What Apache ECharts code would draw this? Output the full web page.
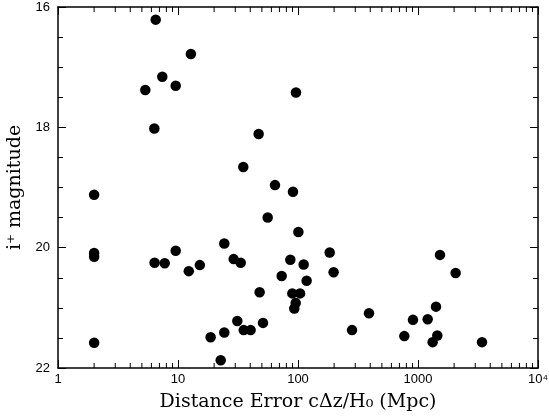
<!DOCTYPE html>
<html>
<head>
<meta charset="utf-8">
<script src="https://cdn.jsdelivr.net/npm/echarts@6/dist/echarts.min.js"></script>
<style>html,body{margin:0;padding:0;background:#fff}#c{width:549px;height:418px}</style>
</head>
<body>
<div id="c"></div>
<script>
// Distance error (Mpc)
const distErr = [6.52, 12.8, 7.40, 5.34, 9.57, 6.35, 47.0, 35.0, 64.3, 2.0,
  96.2, 90.8, 55.9, 2.0, 2.0, 9.57, 6.38, 7.75, 12.3, 15.2,
  24.3, 29.1, 33.3, 73.1, 47.9, 31.2, 35.3, 40.3, 51.1, 24.3,
  18.7, 22.7, 2.0, 100.7, 183.7, 198, 86.3, 111.5, 118, 89.7,
  104, 95.7, 93.1, 282, 390.5, 769, 908, 1204, 1413, 1448,
  1324, 1525, 2059, 3415];
// i+ magnitude
const mag = [16.21, 16.78, 17.16, 17.38, 17.31, 18.02, 18.11, 18.66, 18.96, 19.12,
  17.42, 19.07, 19.50, 20.09, 20.15, 20.05, 20.25, 20.26, 20.39, 20.29,
  19.93, 20.19, 20.25, 20.47, 20.74, 21.22, 21.37, 21.37, 21.25, 21.41,
  21.49, 21.87, 21.58, 19.74, 20.08, 20.41, 20.20, 20.28, 20.55, 20.76,
  20.76, 20.92, 21.01, 21.37, 21.09, 21.47, 21.20, 21.19, 20.98, 21.46,
  21.57, 20.12, 20.42, 21.57];
const xTickLabels = {1: '1', 10: '10', 100: '100', 1000: '1000', 10000: '10⁴'};
const yTickLabels = [16, 18, 20, 22];
const xMinorTicks = [];
[1, 10, 100, 1000].forEach(d => { for (let k = 2; k <= 9; k++) xMinorTicks.push(k * d); });

const points = distErr.map((d, i) => [d, mag[i]]);
const chart = echarts.init(document.getElementById('c'));
const lineStyle = {color: '#000', width: 1.5};
const xCommon = {
  type: 'log', logBase: 10, min: 1, max: 10000,
  axisLine: {show: true, onZero: false, lineStyle},
  axisTick: {show: true, inside: true, length: 8, lineStyle: {color: '#000', width: 1}},
  splitLine: {show: false}
};
const yCommon = {
  type: 'value', min: 16, max: 22, interval: 2, inverse: true,
  axisLine: {show: true, onZero: false, lineStyle},
  axisTick: {show: true, inside: true, length: 8, lineStyle: {color: '#000', width: 1}},
  minorTick: {show: true, splitNumber: 4, length: 5, lineStyle: {color: '#000', width: 1}},
  splitLine: {show: false}
};
chart.setOption({
  animation: false,
  backgroundColor: '#fff',
  grid: {left: 58, right: 11, top: 7, bottom: 50, containLabel: false, outerBoundsMode: 'none'},
  xAxis: [
    Object.assign({}, xCommon, {
      position: 'bottom',
      name: 'Distance Error cΔz/H₀ (Mpc)',
      nameLocation: 'middle', nameGap: 25,
      nameTextStyle: {fontFamily: 'DejaVu Serif', fontSize: 19, color: '#000'},
      axisLabel: {
        margin: 5, color: '#000', fontFamily: 'Liberation Sans', fontSize: 13,
        formatter: v => xTickLabels[Math.round(v)] || ''
      }
    }),
    Object.assign({}, xCommon, {position: 'top', axisLabel: {show: false}})
  ],
  yAxis: [
    Object.assign({}, yCommon, {
      position: 'left',
      name: 'i⁺ magnitude',
      nameLocation: 'middle', nameGap: 32,
      nameTextStyle: {fontFamily: 'DejaVu Serif', fontSize: 19, color: '#000'},
      axisLabel: {
        margin: 8, color: '#000', fontFamily: 'Liberation Sans', fontSize: 13,
        formatter: v => yTickLabels.indexOf(v) >= 0 ? String(v) : ''
      }
    }),
    Object.assign({}, yCommon, {position: 'right', axisLabel: {show: false}})
  ],
  series: [
    {
      type: 'scatter', xAxisIndex: 0, yAxisIndex: 0,
      data: points, symbol: 'circle', symbolSize: 10.5,
      itemStyle: {color: '#000', opacity: 1}
    },
    {
      type: 'custom', xAxisIndex: 0, yAxisIndex: 0, silent: true,
      data: xMinorTicks.map(v => [v]),
      renderItem: function (params, api) {
        const b = api.coord([api.value(0), 22]);
        const t = api.coord([api.value(0), 16]);
        const st = {stroke: '#000', lineWidth: 1};
        return {type: 'group', children: [
          {type: 'line', shape: {x1: b[0], y1: b[1], x2: b[0], y2: b[1] - 5}, style: st},
          {type: 'line', shape: {x1: t[0], y1: t[1], x2: t[0], y2: t[1] + 5}, style: st}
        ]};
      },
      encode: {x: 0}
    }
  ]
});
</script>
</body>
</html>
